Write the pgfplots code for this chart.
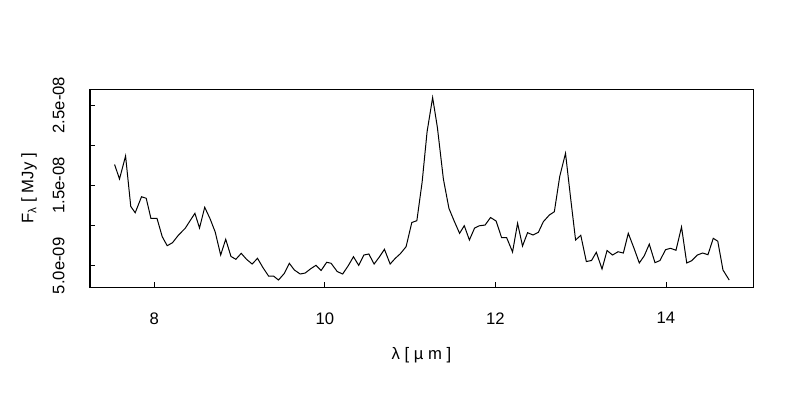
\documentclass[border=0pt]{standalone}
\usepackage{pgfplots}
\pgfplotsset{compat=1.18}
\usepackage{fontspec}
\setmainfont{Liberation Sans}
\pgfplotstableread{
x y
7.535 17.60e-9
7.593 15.80e-9
7.664 18.66e-9
7.725 12.38e-9
7.777 11.60e-9
7.851 13.59e-9
7.906 13.40e-9
7.961 10.91e-9
8.032 10.91e-9
8.094 8.62e-9
8.152 7.50e-9
8.214 7.87e-9
8.285 8.83e-9
8.363 9.66e-9
8.418 10.57e-9
8.477 11.53e-9
8.531 9.70e-9
8.592 12.28e-9
8.656 10.82e-9
8.715 9.20e-9
8.779 6.34e-9
8.838 8.30e-9
8.900 6.16e-9
8.957 5.81e-9
9.020 6.55e-9
9.082 5.81e-9
9.148 5.22e-9
9.211 5.93e-9
9.274 4.79e-9
9.340 3.73e-9
9.398 3.73e-9
9.457 3.23e-9
9.524 4.04e-9
9.584 5.31e-9
9.643 4.48e-9
9.711 3.98e-9
9.770 4.10e-9
9.834 4.63e-9
9.896 5.06e-9
9.957 4.42e-9
10.022 5.44e-9
10.074 5.31e-9
10.145 4.29e-9
10.209 3.98e-9
10.274 5.00e-9
10.336 6.13e-9
10.397 5.06e-9
10.458 6.34e-9
10.516 6.47e-9
10.578 5.22e-9
10.639 6.09e-9
10.699 7.05e-9
10.766 5.22e-9
10.824 5.91e-9
10.886 6.51e-9
10.953 7.38e-9
11.020 10.39e-9
11.079 10.61e-9
11.141 15.42e-9
11.199 21.68e-9
11.264 25.93e-9
11.320 22.20e-9
11.390 15.80e-9
11.455 12.15e-9
11.513 10.66e-9
11.580 9.04e-9
11.635 9.99e-9
11.695 8.21e-9
11.756 9.70e-9
11.812 9.98e-9
11.879 10.07e-9
11.943 11.01e-9
12.008 10.57e-9
12.072 8.52e-9
12.131 8.52e-9
12.201 6.72e-9
12.260 10.29e-9
12.318 7.46e-9
12.377 9.12e-9
12.441 8.83e-9
12.504 9.17e-9
12.562 10.49e-9
12.633 11.32e-9
12.691 11.73e-9
12.754 16.11e-9
12.822 18.99e-9
12.879 13.68e-9
12.940 8.21e-9
13.001 8.79e-9
13.066 5.53e-9
13.127 5.66e-9
13.183 6.68e-9
13.250 4.60e-9
13.309 6.90e-9
13.373 6.34e-9
13.438 6.75e-9
13.500 6.59e-9
13.558 9.04e-9
13.625 7.18e-9
13.687 5.35e-9
13.745 6.24e-9
13.804 7.69e-9
13.871 5.39e-9
13.930 5.66e-9
13.994 7.00e-9
14.053 7.18e-9
14.117 6.93e-9
14.182 9.83e-9
14.243 5.35e-9
14.301 5.63e-9
14.367 6.34e-9
14.430 6.59e-9
14.492 6.38e-9
14.554 8.42e-9
14.607 8.06e-9
14.668 4.48e-9
14.741 3.23e-9
}\spectrum
\begin{document}
\begin{tikzpicture}
\path[use as bounding box] (0pt,0pt) rectangle (600pt,300pt);
\begin{axis}[
  at={(67.5pt,84.75pt)}, anchor=south west,
  scale only axis, width=497.25pt, height=147.75pt,
  xmin=7.247, xmax=15.02, ymin=2.363e-9, ymax=26.87e-9,
  axis line style={line width=0.75pt},
  tick align=inside, major tick length=3.75pt,
  tick style={line width=0.75pt, black},
  xtick pos=bottom, ytick pos=left,
  xtick={8,10,12,14}, xticklabels={8,10,12,14},
  ytick={5e-9,1e-8,1.5e-8,2e-8,2.5e-8},
  yticklabels={5.0e-09,,1.5e-08,,2.5e-08},
  scaled y ticks=false, scaled x ticks=false,
  ticklabel style={font=\fontsize{12.5}{14}\selectfont},
  xticklabel shift=15.5pt,
  yticklabel style={rotate=90, anchor=south},
  yticklabel shift=15.5pt,
  xlabel={λ [ µ m ]},
  ylabel={F\textsubscript{λ} [ MJy ]},
  label style={font=\fontsize{12.5}{14}\selectfont},
  xlabel style={at={(axis description cs:0.5,-0.3452)}, anchor=center},
  ylabel style={at={(axis description cs:-0.092,0.5)}, anchor=center},
]
\addplot[black, line width=0.75pt, mark=none] table[x=x,y=y] {\spectrum};
\end{axis}
\end{tikzpicture}
\end{document}
